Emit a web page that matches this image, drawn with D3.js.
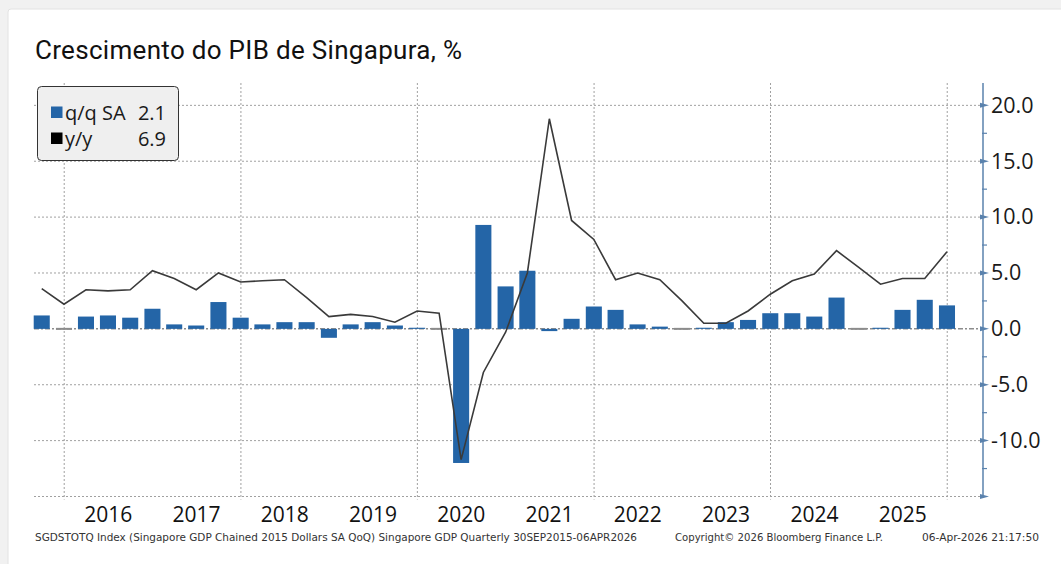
<!DOCTYPE html>
<html>
<head>
<meta charset="utf-8">
<script src="https://cdn.jsdelivr.net/npm/d3@7"></script>
<style>
  html, body { margin: 0; padding: 0; background: #f1f1f1; }
  svg { display: block; }
</style>
</head>
<body>
<svg id="chart" width="1061" height="564"></svg>
<script>
// Quarterly GDP growth, Singapore (quarter-end observations)
const quarters = [
  "2015Q3", "2015Q4",
  "2016Q1", "2016Q2", "2016Q3", "2016Q4",
  "2017Q1", "2017Q2", "2017Q3", "2017Q4",
  "2018Q1", "2018Q2", "2018Q3", "2018Q4",
  "2019Q1", "2019Q2", "2019Q3", "2019Q4",
  "2020Q1", "2020Q2", "2020Q3", "2020Q4",
  "2021Q1", "2021Q2", "2021Q3", "2021Q4",
  "2022Q1", "2022Q2", "2022Q3", "2022Q4",
  "2023Q1", "2023Q2", "2023Q3", "2023Q4",
  "2024Q1", "2024Q2", "2024Q3", "2024Q4",
  "2025Q1", "2025Q2", "2025Q3", "2025Q4"
];

// q/q SA, %
const qoq = [
  1.2, 0.0,
  1.1, 1.2, 1.0, 1.8,
  0.4, 0.3, 2.4, 1.0,
  0.4, 0.6, 0.6, -0.8,
  0.4, 0.6, 0.3, 0.1,
  0.0, -12.0, 9.3, 3.8,
  5.2, -0.2, 0.9, 2.0,
  1.7, 0.4, 0.2, 0.0,
  0.1, 0.6, 0.8, 1.4,
  1.4, 1.1, 2.8, 0.0,
  0.1, 1.7, 2.6, 2.1
];

// y/y, %
const yoy = [
  3.6, 2.2,
  3.5, 3.4, 3.5, 5.2,
  4.5, 3.5, 5.0, 4.2,
  4.3, 4.4, 2.8, 1.1,
  1.3, 1.1, 0.6, 1.6,
  1.4, -11.7, -3.9, -0.3,
  5.0, 18.8, 9.7, 8.0,
  4.4, 5.0, 4.4, 2.5,
  0.5, 0.5, 1.6, 3.1,
  4.3, 4.9, 7.0, 5.5,
  4.0, 4.5, 4.5, 6.9
];

const yMajorTicks = [-15, -10, -5, 0, 5, 10, 15, 20];
const yMinorTicks = [-12.5, -7.5, -2.5, 2.5, 7.5, 12.5, 17.5];
const yearLabels = [2016, 2017, 2018, 2019, 2020, 2021, 2022, 2023, 2024, 2025];
const gridYears = [2016, 2018, 2020, 2022, 2024, 2026];

const titleText = "Crescimento do PIB de Singapura, %";
const footerSource = "SGDSTOTQ Index (Singapore GDP Chained 2015 Dollars SA QoQ) Singapore GDP Quarterly 30SEP2015-06APR2026";
const footerCopyright = "Copyright\u00A9 2026 Bloomberg Finance L.P.";
const footerStamp = "06-Apr-2026 21:17:50";

// ---------------------------------------------------------------
const BLUE = "#2465a7";
const LINE = "#3a3a3a";
const AXIS = "#5a82ad";
const FONT = "'Open Sans', 'Noto Sans', sans-serif";

const quarterEnd = s => {
  const yr = +s.slice(0, 4), q = +s.slice(5);
  return new Date(yr, q * 3, 0);
};
const data = quarters.map((q, i) => ({ date: quarterEnd(q), qoq: qoq[i], yoy: yoy[i] }));

const svg = d3.select("#chart");

// white card
svg.append("rect")
  .attr("x", 8).attr("y", 9).attr("width", 1070).attr("height", 570)
  .attr("rx", 3)
  .attr("fill", "#ffffff").attr("stroke", "#e2e2e2");

const plot = { left: 34, right: 983, top: 83, bottom: 496.5 };

const x = d3.scaleTime()
  .domain([new Date(2015, 7, 29), new Date(2026, 4, 29)])
  .range([plot.left, plot.right]);
const y = d3.scaleLinear()
  .domain([-15, 22])
  .range([plot.bottom, plot.top]);

const step = x(new Date(2016, 2, 31)) - x(new Date(2015, 11, 31));
const barW = step * 0.73;

// title
svg.append("text")
  .attr("x", 35).attr("y", 59)
  .attr("font-family", "Roboto, 'Open Sans', sans-serif")
  .attr("font-size", 26)
  .attr("fill", "#111")
  .attr("textLength", 427)
  .attr("lengthAdjust", "spacing")
  .text(titleText);

// gridlines
const grid = svg.append("g");
grid.selectAll("line.h")
  .data(yMajorTicks.filter(d => d !== 0))
  .join("line")
  .attr("x1", plot.left).attr("x2", plot.right)
  .attr("y1", d => y(d)).attr("y2", d => y(d))
  .attr("stroke", "#a0a0a0").attr("stroke-width", 1)
  .attr("stroke-dasharray", "2,2");

grid.selectAll("line.v")
  .data(gridYears)
  .join("line")
  .attr("x1", d => x(new Date(d, 0, 1))).attr("x2", d => x(new Date(d, 0, 1)))
  .attr("y1", plot.top).attr("y2", plot.bottom + 3)
  .attr("stroke", "#a0a0a0").attr("stroke-width", 1)
  .attr("stroke-dasharray", "2,2");

// zero line
svg.append("line")
  .attr("x1", plot.left).attr("x2", plot.right)
  .attr("y1", y(0)).attr("y2", y(0))
  .attr("stroke", "#8c8c8c").attr("stroke-width", 1.5)
  .attr("stroke-dasharray", "5,2,2,2");

// q/q bars
svg.append("g").selectAll("rect")
  .data(data)
  .join("rect")
  .attr("x", d => x(d.date) - barW / 2)
  .attr("width", barW)
  .attr("y", d => d.qoq === 0 ? y(0) - 1 : Math.min(y(d.qoq), y(0)))
  .attr("height", d => d.qoq === 0 ? 2 : Math.abs(y(d.qoq) - y(0)))
  .attr("fill", d => d.qoq === 0 ? "#8c8c8c" : BLUE);

// y/y line
svg.append("path")
  .datum(data)
  .attr("fill", "none")
  .attr("stroke", LINE)
  .attr("stroke-width", 1.6)
  .attr("stroke-linejoin", "miter")
  .attr("d", d3.line().x(d => x(d.date)).y(d => y(d.yoy)));

// right value axis
const axisG = svg.append("g").attr("transform", `translate(${plot.right},0)`);
axisG.call(
  d3.axisRight(y)
    .tickValues(yMajorTicks)
    .tickSize(0)
    .tickPadding(8)
    .tickFormat(d => d === -15 ? "" : d.toFixed(1))
);
axisG.select(".domain").remove();
axisG.selectAll(".tick text")
  .attr("font-family", FONT)
  .attr("font-size", 21.5)
  .attr("fill", "#1a1a1a");
axisG.append("line")
  .attr("x1", 0).attr("x2", 0)
  .attr("y1", plot.top).attr("y2", plot.bottom)
  .attr("stroke", AXIS).attr("stroke-width", 1.5);
axisG.selectAll("path.arrow")
  .data(yMajorTicks)
  .join("path")
  .attr("class", "arrow")
  .attr("d", d => `M-3,${y(d) - 2.5}L6,${y(d)}L-3,${y(d) + 2.5}Z`)
  .attr("fill", AXIS);
axisG.selectAll("line.minor")
  .data(yMinorTicks)
  .join("line")
  .attr("class", "minor")
  .attr("x1", -1).attr("x2", 4)
  .attr("y1", d => y(d)).attr("y2", d => y(d))
  .attr("stroke", AXIS).attr("stroke-width", 1.2);

// year labels
svg.append("g").selectAll("text")
  .data(yearLabels)
  .join("text")
  .attr("x", d => x(new Date(d, 6, 1)))
  .attr("y", 522)
  .attr("text-anchor", "middle")
  .attr("font-family", FONT)
  .attr("font-size", 21)
  .attr("fill", "#111")
  .text(d => d);

// legend
const legend = svg.append("g");
legend.append("rect")
  .attr("x", 37.5).attr("y", 86.5).attr("width", 141).attr("height", 74)
  .attr("rx", 4)
  .attr("fill", "#efefef").attr("stroke", "#333").attr("stroke-width", 1);
const legendRows = [
  { label: "q/q SA", value: qoq[qoq.length - 1].toFixed(1), color: BLUE },
  { label: "y/y", value: yoy[yoy.length - 1].toFixed(1), color: "#000" }
];
legendRows.forEach((r, i) => {
  const base = 119.5 + i * 26;
  legend.append("rect")
    .attr("x", 51).attr("y", base - 13).attr("width", 11.5).attr("height", 11.5)
    .attr("fill", r.color);
  legend.append("text")
    .attr("x", 65).attr("y", base)
    .attr("font-family", FONT).attr("font-size", 20).attr("fill", "#1a1a1a")
    .text(r.label);
  legend.append("text")
    .attr("x", 166).attr("y", base)
    .attr("text-anchor", "end")
    .attr("font-family", FONT).attr("font-size", 20).attr("fill", "#1a1a1a")
    .text(r.value);
});

// footer
const footer = [
  { text: footerSource, x: 35, w: 602 },
  { text: footerCopyright, x: 675, w: 208 },
  { text: footerStamp, x: 922, w: 117 }
];
svg.append("g").selectAll("text")
  .data(footer)
  .join("text")
  .attr("x", d => d.x).attr("y", 541)
  .attr("font-family", "'DejaVu Sans', Verdana, sans-serif")
  .attr("font-size", 10.5)
  .attr("fill", "#333")
  .attr("textLength", d => d.w)
  .attr("lengthAdjust", "spacingAndGlyphs")
  .text(d => d.text);
</script>
</body>
</html>
